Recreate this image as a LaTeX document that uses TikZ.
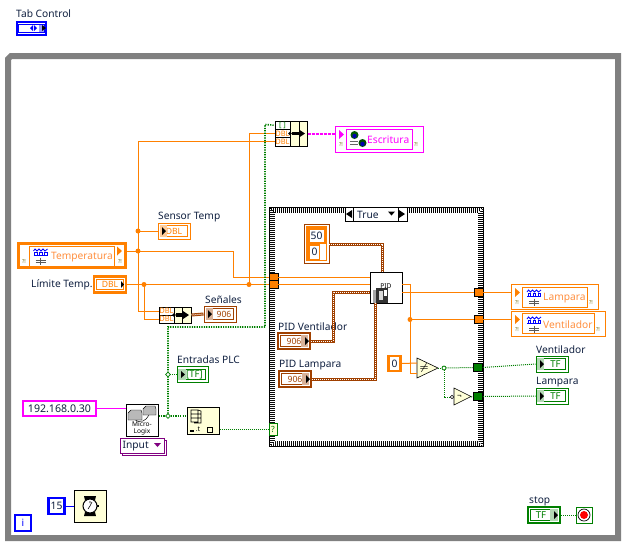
\documentclass[tikz,border=0pt]{standalone}
\usepackage{fontspec}
\setmainfont{Noto Sans}
\usetikzlibrary{calc,shapes.geometric}
\definecolor{lvorange}{HTML}{FF8000}
\definecolor{lvbrown}{HTML}{A04000}
\definecolor{lvgreen}{HTML}{007F00}
\definecolor{lvblue}{HTML}{0000FF}
\definecolor{lvpink}{HTML}{FF00FF}
\definecolor{lvpurple}{HTML}{800080}
\definecolor{lvpale}{HTML}{FFFFD8}
\definecolor{lvgray}{HTML}{808080}
\definecolor{lvtext}{HTML}{102040}
\definecolor{lvsoft}{HTML}{FF9040}
\tikzset{
  lbl/.style={font=\fontsize{10.2}{11}\selectfont,text=lvtext,inner sep=0pt,anchor=west,yshift=-1pt},
  intext/.style={font=\fontsize{10.2}{11}\selectfont,text=#1,inner sep=0pt,anchor=west,yshift=-1pt},
  numtext/.style={font=\fontsize{10.3}{11}\selectfont,text=lvtext},
  inframe/.style={path picture={\draw[#1,line width=.8pt] ($(path picture bounding box.south west)+(2.8,-2.8)$) rectangle ($(path picture bounding box.north east)+(-2.8,2.8)$);}},
  box/.style={draw,inner sep=0pt,minimum width=#1,minimum height=16,fill=white},
  box/.default=32,
  term/.style={box,draw=#1,line width=1pt,text=#1,inframe=#1,font=\fontsize{8.6}{9}\selectfont\bfseries},
  ctrl/.style={box,draw=#1,line width=2.4pt,text=#1,font=\fontsize{8.6}{9}\selectfont\bfseries},
  frame/.style={draw=#1,line width=1pt,fill=white,inner sep=0pt},
  cell/.style={draw=black,fill=white,line width=.8pt,minimum width=15,minimum height=8.3,inner sep=0pt,font=\fontsize{7.5}{7}\selectfont\bfseries,text=#1},
  vinode/.style={draw=black,fill=lvpale,line width=1pt,inner sep=0pt,minimum width=32,minimum height=32},
  tunnel/.style={draw=black,fill=#1,line width=.8pt,inner sep=0pt,minimum width=9,minimum height=8},
  dot/.style={circle,fill=lvorange,inner sep=0pt,minimum size=5},
  gdot/.style={diamond,draw=lvgreen,fill=white,inner sep=0pt,minimum size=5,line width=.8pt},
  errmark/.style={font=\fontsize{5.5}{5}\selectfont\bfseries,text=olive!80!black,inner sep=0pt},
  dblwire/.style={lvorange,line width=1pt},
  boolwire/.style={lvgreen,line width=1pt,dash pattern=on 1pt off 1pt},
  arrwire/.style={lvgreen,line width=1.6pt,dash pattern=on 1.2pt off 1.2pt},
  clwire/.style={lvbrown,line width=3pt,postaction={draw=white,line width=1pt,dash pattern=on 1pt off 1pt}},
  strwire/.style={lvpink,line width=1pt,dash pattern=on 1.5pt off .5pt},
  pinkwire/.style={lvpink,line width=2pt,dash pattern=on 3pt off 1pt},
  chartpic/.pic={
    \draw[lvblue,line width=.8pt] (-7,-5) -- (-5.5,-7) -- (-3.5,-5) -- (-1.5,-7) -- (.5,-5) -- (2.5,-7) -- (4.5,-5) -- (7,-7);
    \draw[lvblue,line width=.8pt] (-7,-1) -- (7,-1) (-6,-1) -- (-6,-3.5) -- (-3.5,-3.5) -- (-3.5,-1) (-1,-1) -- (-1,-3.5) -- (1.5,-3.5) -- (1.5,-1) (4,-1) -- (4,-3.5) -- (6.5,-3.5) -- (6.5,-1);
    \draw[black!65,line width=.8pt] (-5,4) -- (5,4) (-5,6) -- (5,6) (0,1.5) -- (0,9);
  },
  tip/.pic={\fill[#1] (0,-4.5) -- (5,0) -- (0,4.5) -- cycle;},
  arrowpic/.pic={
    \fill[black] (-6,-1.8) rectangle (3,1.8);
    \fill[black] (1,-4) -- (7,0) -- (1,4) -- cycle;
    \fill[black] (-8,0) circle (1.8);
  }
}
\begin{document}
\begin{tikzpicture}[x=1pt,y=-1pt]
\useasboundingbox (0,0) rectangle (632,550);

% while loop frame
\draw[lvgray,line width=6pt] (8,59) -- (11,56) -- (618,56) -- (618,538) -- (8,538) -- cycle;
\node[box=16,draw=lvblue,line width=2pt,text=lvblue,font=\fontsize{10}{10}\selectfont\bfseries] (iter) at (23,523) {i};

\node[lbl] (tablbl) at (16,13) {Tab Control};
\node[draw=lvblue,line width=2pt,fill=white,inner sep=0pt,minimum width=29,minimum height=13] (tab) at (31,28) {};
\fill[lvblue!40] (39,24) rectangle (44,32);
\draw[lvblue,line width=.7pt] (18,24) rectangle (44,32);
\fill[lvblue] (33,25) -- (30,28) -- (33,31) -- cycle (34,25) -- (37,28) -- (34,31) -- cycle;
\fill[black] (42,25) -- (46,28) -- (42,31) -- cycle;

% case structure with its dithered border
\fill[black] (269,207) rectangle (484,447);
\foreach \d/\ph in {1.5/0,2.5/1,3.5/0,4.5/1,5.5/0}{
  \draw[white,line width=1pt,dash pattern=on 1pt off 1pt,dash phase=\ph pt] (269+\d,207+\d) rectangle (484-\d,447-\d);
}
\fill[white] (275,213) rectangle (478,441);
\node[draw=black,fill=white,line width=.8pt,minimum width=62,minimum height=14,inner sep=0pt] (sel) at (376,214) {};
\node[lbl] (seltxt) at (357,214) {True};
\draw[line width=.8pt] (353,207) -- (353,221) (398,207) -- (398,221);
\fill (352,210) -- (346,214) -- (352,218) -- cycle (399,210) -- (405,214) -- (399,218) -- cycle;
\fill (388,211.5) -- (395,211.5) -- (391.5,215.5) -- cycle;

% indicators, controls and nodes
\node[term=lvorange,minimum width=32] (sensor) at (174,231) {DBL};
\fill[lvorange!40] (160,225) rectangle (167,237);
\fill (162,227) -- (166,231) -- (162,235) -- cycle;
\node[lbl] (sensorlbl) at (158,216) {Sensor Temp};

\node[ctrl=lvorange,inframe=lvorange] (limit) at (110,284.5) {DBL};
\fill (121,281) -- (124,284.5) -- (121,288) -- cycle;
\node[lbl] (limitlbl) at (31,284) {Límite Temp.};

\node[draw=lvorange,line width=2.4pt,fill=white,minimum width=107,minimum height=24,inner sep=0pt] (temp) at (72,255.5) {};
\node[frame=lvorange,minimum width=85,minimum height=20] (tempin) at (72,256) {};
\node[intext=lvsoft] (temptxt) at (51,256) {Temperatura};
\pic at (40.5,256) {chartpic};
\pic at (117,251) {tip=lvorange};
\node[errmark] (te1) at (24,262) {?!};
\node[errmark] (te2) at (120,262) {?!};

\node[frame=lvpink,minimum width=88,minimum height=26] (esc) at (379,139) {};
\node[frame=lvpink,minimum width=66,minimum height=20] (escin) at (379,139) {};
\node[intext=lvpink] (esctxt) at (367,139) {Escritura};
\pic at (339,134.5) {tip=lvpink};
\fill[lvgreen!70!black] (354.5,135) circle (4);
\fill[lvblue!70!black] (354.5,136) circle (2.2);
\draw[black!60,line width=.8pt] (350,141) -- (358,141) (350,144) -- (358,144);
\fill[lvgreen!60!black] (362.5,143) circle (4);
\fill[lvblue!70!black] (362.5,144) circle (2.2);
\node[errmark] (ee1) at (341,145) {?!};
\node[errmark] (ee2) at (416,145) {?!};

\node[frame=lvorange,minimum width=87,minimum height=25] (lamp) at (554.5,296.5) {};
\node[frame=lvorange,minimum width=65,minimum height=20] (lampin) at (554.5,297) {};
\node[intext=lvsoft] (lamptxt) at (543,297) {Lampara};
\pic at (534,297) {chartpic};
\pic at (515,292.5) {tip=lvorange};
\node[errmark] (le1) at (517,303) {?!};
\node[errmark] (le2) at (591,303) {?!};

\node[frame=lvorange,minimum width=94,minimum height=25] (vent) at (558,323.5) {};
\node[frame=lvorange,minimum width=72,minimum height=20] (ventin) at (558,323.5) {};
\node[intext=lvsoft] (venttxt) at (543,324) {Ventilador};
\pic at (534,324) {chartpic};
\pic at (515,319.5) {tip=lvorange};
\node[errmark] (ve1) at (517,330) {?!};
\node[errmark] (ve2) at (598,330) {?!};

% bundlers
\node[vinode,minimum height=25] (bund) at (291,133.5) {};
\draw[line width=1pt] (290,121) -- (290,146) (299,121) -- (299,146);
\node[cell=lvgreen] (bunda) at (282.5,125.2) {[ ]};
\node[cell=lvorange] (bundb) at (282.5,133.5) {DBL};
\node[cell=lvorange] (bundc) at (282.5,141.8) {DBL};
\pic at (298,133.5) {arrowpic};

\node[vinode,minimum height=16] (bld) at (175,315) {};
\draw[line width=1pt] (174,307) -- (174,323) (182.5,307) -- (182.5,323);
\node[cell=lvorange,minimum height=8] (blda) at (166.5,311) {DBL};
\node[cell=lvorange,minimum height=8] (bldb) at (166.5,319) {DBL};
\pic at (182,315) {arrowpic};

\node[term=lvbrown,minimum width=32] (senales) at (220,314) {\hspace{8pt}906};
\fill[lvbrown!40] (206,308) rectangle (213,320);
\fill (208,310) -- (212,314) -- (208,318) -- cycle;
\node[lbl] (senaleslbl) at (205,299) {Señales};

\node[term=lvgreen,minimum width=31,font=\fontsize{9.5}{10}\selectfont\bfseries] (plc) at (193,374.5) {\hspace{3pt}[TF]};
\fill[lvgreen!30] (178,369) rectangle (186,380);
\fill (181,371) -- (185,374.5) -- (181,378) -- cycle;
\node[lbl] (plclbl) at (177,359) {Entradas PLC};

\node[draw=lvpink,line width=2.6pt,fill=white,minimum width=73,minimum height=15,inner sep=0pt,font=\fontsize{10.6}{11}\selectfont,text=lvtext] (ip) at (59.5,408.5) {192.168.0.30};

\node[draw=black,fill=white,line width=1pt,minimum width=32,minimum height=32,inner sep=0pt] (plcread) at (142,420) {};
\draw[line width=.5pt] (134,419) .. controls (140,424) and (146,421) .. (149,415);
\fill[gray!55,draw=black,line width=.4pt] (128,413) -- (131,410) -- (141,410) -- (142,413) -- (142,420) -- (128,420) -- cycle;
\fill[gray!55,draw=black,line width=.4pt] (143,409) -- (146,406) -- (155,406) -- (156,409) -- (156,415) -- (143,415) -- cycle;
\node[font=\fontsize{6.6}{6.8}\selectfont\bfseries,inner sep=0pt,align=center] (plctxt) at (142,428) {Micro-\\Logix};

\node[draw=lvpurple,line width=.8pt,fill=white,minimum width=44,minimum height=15,inner sep=0pt] (inshad) at (144,448) {};
\node[draw=lvpurple,line width=.8pt,fill=white,minimum width=44,minimum height=15,inner sep=0pt] (input) at (142,445.5) {};
\node[lbl] (inputtxt) at (122.5,445.5) {Input};
\fill[lvpurple] (154,443) -- (161,443) -- (157.5,447) -- cycle;

\node[vinode,minimum height=27] (subset) at (203,420.5) {};
\draw[line width=.6pt] (191,410) rectangle (198,422) (191,414) -- (201,414) (191,418) -- (201,418) (198,410) -- (201,411) -- (201,423) -- (194,423);
\fill (190,430) rectangle (194,432);
\node[font=\fontsize{7}{7}\selectfont\bfseries,inner sep=0pt] (subsettxt) at (198,429.5) {.t};
\draw[line width=.6pt] (207.5,427.5) rectangle (212,432);

\node[draw=lvgreen,line width=.8pt,fill=lvpale,minimum width=8,minimum height=12,inner sep=0pt,font=\fontsize{8.5}{8}\selectfont\bfseries,text=lvgreen] (casesel) at (273,429) {?};

\node[ctrl=lvblue,minimum width=16,numtext] (fifteen) at (56.5,506) {15};
\node[vinode] (wait) at (90,506) {};
\fill (84,496) -- (96,496) -- (95,500) -- (85,500) -- cycle (85,512) -- (95,512) -- (96,516) -- (84,516) -- cycle;
\draw[fill=white,line width=1pt] (90,506) circle (7);
\draw[line width=.6pt] (90,501) -- (90,503) (90,506) -- (88,509) (90,506) -- (92,502);
\fill (97,505) rectangle (99,507);

% cluster constant
\node[draw=lvbrown,line width=.8pt,fill=white,minimum width=25,minimum height=39,inner sep=0pt] (clconst) at (316.5,243.5) {};
\fill[lvorange] (306,226) rectangle (327,261);
\fill[white] (319.5,244) rectangle (326,260);
\node[draw=lvorange,line width=1pt,fill=white,minimum width=15,minimum height=13,inner sep=0pt,numtext] (cfifty) at (316.5,236) {50};
\node[fill=white,minimum width=9,minimum height=13,inner sep=0pt,numtext] (czero) at (314.5,252) {0};

\node[ctrl=lvbrown,inframe=lvbrown,line width=2pt,minimum width=32] (pidv) at (294,341) {906};
\fill[lvbrown!40] (301,335) rectangle (308,347);
\fill (305,337) -- (309,341) -- (305,345) -- cycle;
\node[lbl] (pidvlbl) at (278,326) {PID Ventilador};
\node[ctrl=lvbrown,inframe=lvbrown,line width=2pt,minimum width=32] (pidl) at (295,379) {906};
\fill[lvbrown!40] (302,373) rectangle (309,385);
\fill (306,375) -- (310,379) -- (306,383) -- cycle;
\node[lbl] (pidllbl) at (279,364) {PID Lampara};

\node[draw=black,fill=white,line width=1pt,minimum width=32,minimum height=31,inner sep=0pt,font=\fontsize{6.6}{6}\selectfont\bfseries] (pid) at (386,287.5) {\raisebox{3pt}{PID}};
\fill[gray!70] (373,290) rectangle (385,303);
\fill[black!80] (376,288) rectangle (388,303);
\fill[gray!30] (379,291) rectangle (383,300);
\fill[white] (384,290) rectangle (387,296);

\node[ctrl=lvorange,minimum width=12,minimum height=15,numtext] (zero) at (394.5,363.5) {0};

% comparison and not
\coordinate (neqa) at (417,363);
\coordinate (neqb) at (417,373);
\coordinate (neqo) at (438,368);
\draw[fill=lvpale,line width=.6pt] (417,358) -- (438,368) -- (417,378) -- cycle;
\node[font=\fontsize{10}{10}\selectfont\boldmath,inner sep=0pt] (neq) at (424,368) {$\neq$};
\coordinate (nota) at (450,397);
\coordinate (noto) at (471,397);
\draw[fill=lvpale,line width=.6pt] (454,388) -- (471,396.5) -- (454,405) -- cycle;
\draw[fill=white,line width=.6pt] (452,397) circle (1.8);
\node[font=\fontsize{8}{8}\selectfont\bfseries,inner sep=0pt] (notsign) at (459.5,397) {¬};
\node[circle,draw=lvgreen,fill=white,line width=.8pt,inner sep=0pt,minimum size=4] (gj) at (444,368) {};

% tunnels
\node[tunnel=lvorange] (ta) at (273.5,277) {};
\node[tunnel=lvorange] (tb) at (273.5,284.5) {};
\node[tunnel=lvorange] (tc) at (478.5,292.5) {};
\node[tunnel=lvorange] (td) at (478.5,319.5) {};
\node[tunnel=lvgreen] (te) at (478,367.5) {};
\node[tunnel=lvgreen] (tf) at (478,396.5) {};

% boolean indicators and stop
\node[term=lvgreen,font=\fontsize{9.5}{10}\selectfont\bfseries] (bv) at (552,364) {\hspace{7pt}TF};
\fill[lvgreen!30] (537,358) rectangle (544,370);
\fill (540,360) -- (544,364) -- (540,368) -- cycle;
\node[lbl] (bvlbl) at (536,349) {Ventilador};
\node[term=lvgreen,font=\fontsize{9.5}{10}\selectfont\bfseries] (bl) at (552,396) {\hspace{7pt}TF};
\fill[lvgreen!30] (537,390) rectangle (544,402);
\fill (540,392) -- (544,396) -- (540,400) -- cycle;
\node[lbl] (bllbl) at (536,381) {Lampara};
\node[term=lvgreen,line width=2pt,font=\fontsize{9.5}{10}\selectfont\bfseries] (stopc) at (544,515) {\hspace{-6pt}TF};
\fill[lvgreen!30] (550,509) rectangle (558,521);
\fill (554,511) -- (558,515) -- (554,519) -- cycle;
\node[lbl] (stoplbl) at (529,500) {stop};
\node[draw=lvgreen,fill=white,line width=1pt,minimum width=16,minimum height=16,inner sep=0pt] (stopt) at (584,515) {};
\draw[line width=.7pt] (584,515) circle (6);
\fill[red] (584,515) circle (4);

% wires
\coordinate (tempj) at (138,251);
\coordinate (sensj) at (138,231);
\coordinate (limj) at (144,284.5);
\coordinate (limk) at (249,284.5);
\coordinate (outj) at (410,319.5);
\draw[dblwire] (bundc.west) -- (138,141.8) -- (138,311) -- (blda.west);
\draw[dblwire] (sensj) -- (sensor.west);
\draw[dblwire] (temp.east |- tempj) -- (233,251) -- (233,277) -- (ta.west);
\draw[dblwire] (limit.east) -- (tb.west);
\draw[dblwire] (limj) -- (144,319) -- (bldb.west);
\draw[dblwire] (limk) -- (249,133.5) -- (bundb.west);
\draw[dblwire] (ta.east) -- (370,277);
\draw[dblwire] (tb.east) -- (370,284.5);
\draw[dblwire] (402,292.5) -- (tc.west);
\draw[dblwire] (402,284) -- (410,284) -- (410,373) -- (neqb);
\draw[dblwire] (outj) -- (td.west);
\draw[dblwire] (zero.east) -- (neqa);
\draw[dblwire] (tc.east) -- (511,292.5);
\draw[dblwire] (td.east) -- (511,319.5);
\foreach \j in {tempj,sensj,limj,limk,outj}{\node[dot] at (\j) {};}

\draw[clwire] (clconst.east |- 0,244) -- (382,244) -- (382,272);
\draw[clwire] (pidv.east) -- (333,341) -- (333,292) -- (370,292);
\draw[clwire] (pidl.east) -- (375,379) -- (375,303);
\draw[clwire] (bld.east) -- (senales.west);

\draw[pinkwire] (bund.east) -- (esc.west |- bund.east);
\draw[strwire] (ip.east) -- (plcread.west |- ip.east);

\draw[arrwire] (plcread.east |- 0,416) -- (subset.west |- 0,416);
\draw[arrwire] (168,416) -- (168,327) -- (265,327) -- (265,124.5) -- (bunda.west);
\draw[lvgreen,line width=1pt,dash pattern=on 1pt off 1pt] (168,374.5) -- (plc.west);
\node[gdot] (gj1) at (168,374.5) {};
\node[gdot] (gj2) at (168,416) {};
\draw[boolwire] (subset.east |- casesel) -- (casesel.west);
\draw[boolwire] (neqo) -- (gj);
\draw[boolwire] (gj) -- (te.west);
\draw[boolwire] (gj) -- (444,397) -- (nota);
\draw[boolwire] (noto) -- (tf.west);
\draw[boolwire] (te.east) -- (bv.west);
\draw[boolwire] (tf.east) -- (bl.west);
\draw[boolwire] (stopc.east) -- (stopt.west);
\draw[lvblue,line width=1pt] (fifteen.east) -- (wait.west);
\end{tikzpicture}
\end{document}
